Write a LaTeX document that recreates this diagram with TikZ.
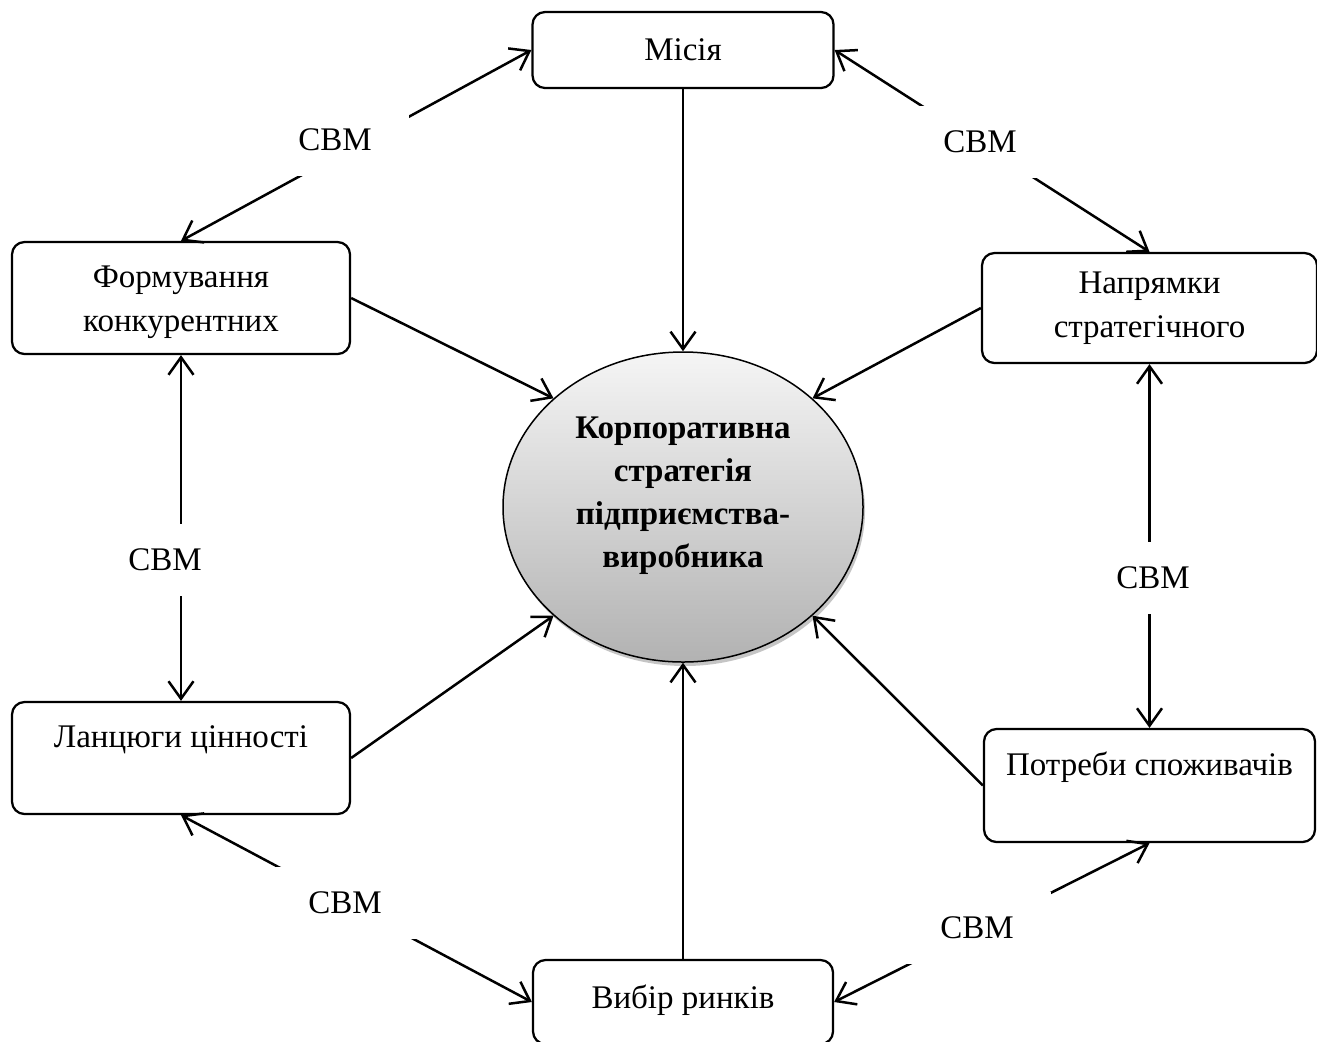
\documentclass[tikz,border=0pt]{standalone}
\usepackage{fontspec}
\setmainfont{Liberation Serif}
\usepackage{xcolor}
\definecolor{cLine}{HTML}{000000}
\definecolor{cTop}{HTML}{F5F5F5}
\definecolor{cBottom}{HTML}{B2B2B2}
\definecolor{cShadow}{HTML}{8C8C8C}
\usepackage{tikz}
\usetikzlibrary{positioning,arrows.meta,shapes.geometric,shadows}
\tikzset{
  node-box/.style={draw=cLine,line width=0.9pt,rounded corners=5pt,
    align=center,inner sep=0pt,font=\fontsize{13.2}{17.4}\selectfont},
  node-core/.style={draw=cLine,line width=0.6pt,ellipse,
    minimum width=144pt,minimum height=124pt,inner sep=0pt,
    top color=cTop,bottom color=cBottom,
    drop shadow={shadow xshift=0.8pt,shadow yshift=-1.6pt,fill=cShadow}},
  core-text/.style={align=center,font=\fontsize{13.2}{17.2}\selectfont\bfseries},
  link-label/.style={fill=white,inner xsep=15pt,inner ysep=10pt,
    font=\fontsize{13.2}{17.2}\selectfont},
  arrow/.style={-{Straight Barb[length=7pt,width=10pt]},line width=1pt,draw=cLine},
  arrow-both/.style={{Straight Barb[length=7pt,width=10pt]}-{Straight Barb[length=7pt,width=10pt]},
    line width=1pt,draw=cLine},
}

\begin{document}
\begin{tikzpicture}[x=0.4pt,y=-0.4pt]
  \useasboundingbox (0,0) rectangle (1317,1041);
  \node[node-box,minimum width=120.4pt,minimum height=30.4pt] (misia) at (683,50) {Місія};
  \node[node-box,minimum width=135.2pt,minimum height=44.8pt] (formuv) at (181,298) {\rule{0pt}{12pt}Формування\\конкурентних};
  \node[node-box,minimum width=134pt,minimum height=44pt] (napr) at (1149.5,308) {Напрямки\\стратегічного};
  \node[node-box,minimum width=135.2pt,minimum height=44.8pt] (lanc) at (181,758) {Ланцюги цінності\\\mbox{}};
  \node[node-box,minimum width=132.4pt,minimum height=45.2pt] (potr) at (1149.5,785.5) {Потреби споживачів\\\mbox{}};
  \node[node-box,minimum width=120pt,minimum height=33.6pt,text depth=4pt] (vybir) at (683,1002) {Вибір ринків};
  \node[node-core,label={[core-text,yshift=4.5pt]center:{Корпоративна\\стратегія\\підприємства-\\виробника}}] (core) at (683,507) {};
  % до центру
  \draw[arrow] (misia.south) -- (core.north);
  \draw[arrow] (formuv.east) -- (core.140);
  \draw[arrow] (napr.west) -- (core.40);
  \draw[arrow] (lanc.east) -- (core.220);
  \draw[arrow] (potr.west) -- (core.320);
  \draw[arrow] (vybir.north) -- (core.south);
  % зв'язки СВМ
  \draw[arrow-both] (formuv.north) -- (misia.west);
  \draw[arrow-both] (misia.east) -- (napr.north);
  \draw[arrow-both] (formuv.south) -- (lanc.north);
  \draw[arrow-both] (napr.south) -- (potr.north);
  \draw[arrow-both] (lanc.south) -- (vybir.west);
  \draw[arrow-both] (potr.south) -- (vybir.east);
  \node[link-label] (l-mf) at (335,140) {СВМ};
  \node[link-label] (l-mn) at (980,142) {СВМ};
  \node[link-label] (l-fl) at (165,560) {СВМ};
  \node[link-label] (l-np) at (1153,578) {СВМ};
  \node[link-label] (l-lv) at (345,903) {СВМ};
  \node[link-label] (l-pv) at (977,928) {СВМ};
\end{tikzpicture}
\end{document}
